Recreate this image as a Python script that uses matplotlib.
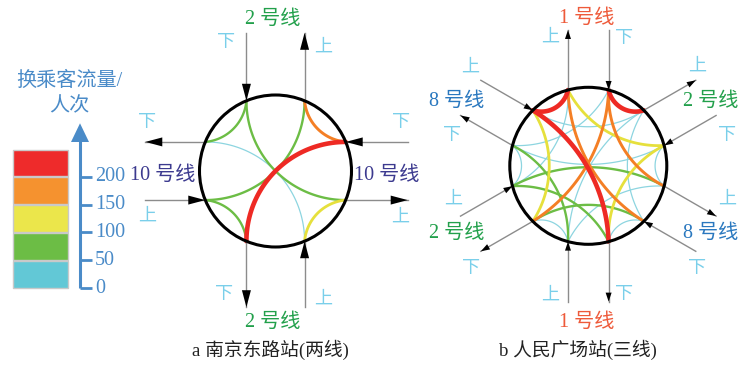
import numpy as np
import matplotlib.pyplot as plt
from matplotlib.patches import Polygon, Rectangle, Circle

plt.rcParams['font.family'] = ['Liberation Serif', 'Noto Sans CJK SC']

# flow classes (persons)
flow_bins = [0, 50, 100, 150, 200, 250]
tick_vals = [0, 50, 100, 150, 200]
legend_colors = ['#62c8d6', '#6cbd45', '#ebe64b', '#f5922f', '#ee2b2b']
chord_colors = ['#8dd5e0', '#6cbd45', '#e6e03c', '#f47f25', '#ee2a24']
chord_widths = [0.9, 1.7, 2.0, 2.1, 3.3]

# a: Nanjing East Road, transfers between ports (index -> index)
a_from = [0, 0, 2, 2, 4, 4, 6, 6]
a_to = [1, 5, 3, 7, 1, 5, 3, 7]
a_flow = [175, 220, 75, 70, 80, 65, 30, 120]

# b: People's Square, transfers between ports
b_from = [0, 0, 0, 0, 2, 2, 2, 2, 4, 4, 4, 4, 6, 6, 6, 6, 8, 8, 8, 8, 10, 10, 10, 10]
b_to = [3, 9, 5, 11, 1, 7, 5, 11, 3, 9, 1, 7, 3, 9, 5, 11, 1, 7, 5, 11, 3, 9, 1, 7]
b_flow = [125, 110, 30, 20, 215, 170, 35, 160, 230, 240, 40, 130,
          25, 70, 15, 85, 30, 20, 60, 35, 165, 25, 40, 75]

# layout of ports
a_center, a_r = (275.5, 171.0), 76.0
a_theta = [22.5, 67.5, 112.5, 157.5, 202.5, 247.5, 292.5, 337.5]
a_dir = [0, 90, 90, 180, 180, 270, 270, 0]
a_len = [62, 68, 68, 60, 60, 66, 66, 62]
a_bend = {45: 40, 135: 45}

b_center, b_r = (588.3, 165.8), 78.5
b_theta = [15 + 30 * k for k in range(12)]
b_dir = [30, 30, 90, 90, 150, 150, 210, 210, 270, 270, 330, 330]
b_len = [60] * 12
b_bend = {30: 48, 90: 33, 150: 28}

C_L2, C_L10, C_L1, C_L8, C_UD = '#22a04b', '#3c3a8f', '#ee5a3a', '#2a78bf', '#7acfea'

fig = plt.figure(figsize=(7.45, 3.69), dpi=100)
ax = fig.add_axes([0, 0, 1, 1])
ax.set_xlim(0, 745)
ax.set_ylim(369, 0)
ax.axis('off')


def port(c, r, th):
    t = np.radians(th)
    return np.array([c[0] + r * np.cos(t), c[1] - r * np.sin(t)])


def arc(p, q, o, alpha):
    m = (p + q) / 2
    c = np.linalg.norm(q - p)
    n = np.array([-(q - p)[1], (q - p)[0]]) / c
    if np.dot(o - m, n) < 0:
        n = -n
    half = c / 2
    a = np.radians(alpha)
    ctr = m - n * half / np.tan(a)
    rr = half / np.sin(a)
    a0 = np.arctan2(p[1] - ctr[1], p[0] - ctr[0])
    a1 = np.arctan2(q[1] - ctr[1], q[0] - ctr[0])
    da = (a1 - a0 + np.pi) % (2 * np.pi) - np.pi
    ang = a0 + da * np.linspace(0, 1, 80)
    return ctr[0] + rr * np.cos(ang), ctr[1] + rr * np.sin(ang)


def head(tip, u, L, W):
    back = tip - u * L
    pn = np.array([-u[1], u[0]])
    ax.add_patch(Polygon([tip, back + pn * W / 2, back - pn * W / 2],
                         closed=True, fc='black', ec='none', zorder=6))


def station(c, r, theta, dirs, lens, frm, to, flow, bend, hl, hw):
    c = np.array(c)
    order = np.argsort(flow)
    for k in order:
        i, j = frm[k], to[k]
        sep = abs(theta[i] - theta[j]) % 360
        sep = min(sep, 360 - sep)
        cls = np.digitize(flow[k], flow_bins) - 1
        x, y = arc(port(c, r, theta[i]), port(c, r, theta[j]), c, bend[round(sep)])
        ax.plot(x, y, color=chord_colors[cls], lw=chord_widths[cls],
                solid_capstyle='round', zorder=2 + cls * 0.1)
    ax.add_patch(Circle(c, r, fill=False, ec='black', lw=2.2, zorder=4))
    for i, th in enumerate(theta):
        p = port(c, r, th)
        t = np.radians(dirs[i])
        u = np.array([np.cos(t), -np.sin(t)])
        e = p + u * lens[i]
        ax.plot([p[0], e[0]], [p[1], e[1]], color='#8c8c8c', lw=1.0, zorder=3)
        if i % 2 == 0:
            head(p, -u, hl, hw)
        else:
            head(e, u, hl, hw)


station(a_center, a_r, a_theta, a_dir, a_len, a_from, a_to, a_flow, a_bend, 17, 9)
station(b_center, b_r, b_theta, b_dir, b_len, b_from, b_to, b_flow, b_bend, 9, 6)

# line names
names = [
    (272.5, 19, '2 号线', C_L2), (272.5, 322, '2 号线', C_L2),
    (163, 175, '10 号线', C_L10), (387, 175, '10 号线', C_L10),
    (586.7, 18, '1 号线', C_L1), (586.7, 322, '1 号线', C_L1),
    (456.7, 101.7, '8 号线', C_L8), (711, 233.3, '8 号线', C_L8),
    (711, 101.7, '2 号线', C_L2), (456.7, 233.3, '2 号线', C_L2),
]
for x, y, s, col in names:
    ax.text(x, y, s, color=col, fontsize=14.5, ha='center', va='center')

# up / down marks
ud = [
    (226, 42, '下'), (323, 47, '上'), (147, 122, '下'), (401, 122, '下'),
    (147, 216, '上'), (400, 217, '上'), (224, 295, '下'), (323, 299, '上'),
    (550, 37.5, '上'), (624, 39, '下'), (470, 67.5, '上'), (452.5, 135.7, '下'),
    (696.7, 66, '上'), (726.7, 135.7, '下'), (453, 199, '上'), (470.7, 268.5, '下'),
    (726.7, 199.5, '上'), (696.7, 268.5, '下'), (550, 295, '上'), (624, 295, '下'),
]
for x, y, s in ud:
    ax.text(x, y, s, color=C_UD, fontsize=13, ha='center', va='center')

# captions
ax.text(270, 350, 'a 南京东路站(两线)', color='#222222', fontsize=13.5, ha='center', va='center')
ax.text(578, 350, 'b 人民广场站(三线)', color='#222222', fontsize=13.5, ha='center', va='center')

# legend scale
BLUE = '#4a8bc8'
y0, k = 288.3, 0.5583


def ys(v):
    return y0 - v * k


for i in range(len(legend_colors)):
    top, bot = ys(flow_bins[i + 1]), ys(flow_bins[i])
    ax.add_patch(Rectangle((12.7, top + 0.8), 55.6, bot - top - 1.6,
                           fc=legend_colors[i], ec='#c9c9c9', lw=1.0))
ax.plot([80, 80], [ys(0), 140], color=BLUE, lw=2.2, solid_capstyle='butt')
ax.add_patch(Polygon([(80, 123.3), (71, 142), (89, 142)], closed=True, fc=BLUE, ec='none'))
for v in tick_vals:
    ax.plot([80, 92], [ys(v), ys(v)], color=BLUE, lw=2.0, solid_capstyle='butt')
    ax.text(95, ys(v), str(v), color=BLUE, fontsize=14.5, ha='left', va='center')
ax.text(69, 81.5, '换乘客流量/', color=BLUE, fontsize=14.5, ha='center', va='center')
ax.text(69, 106.5, '人次', color=BLUE, fontsize=14.5, ha='center', va='center')

fig.savefig('out.png', dpi=100)
